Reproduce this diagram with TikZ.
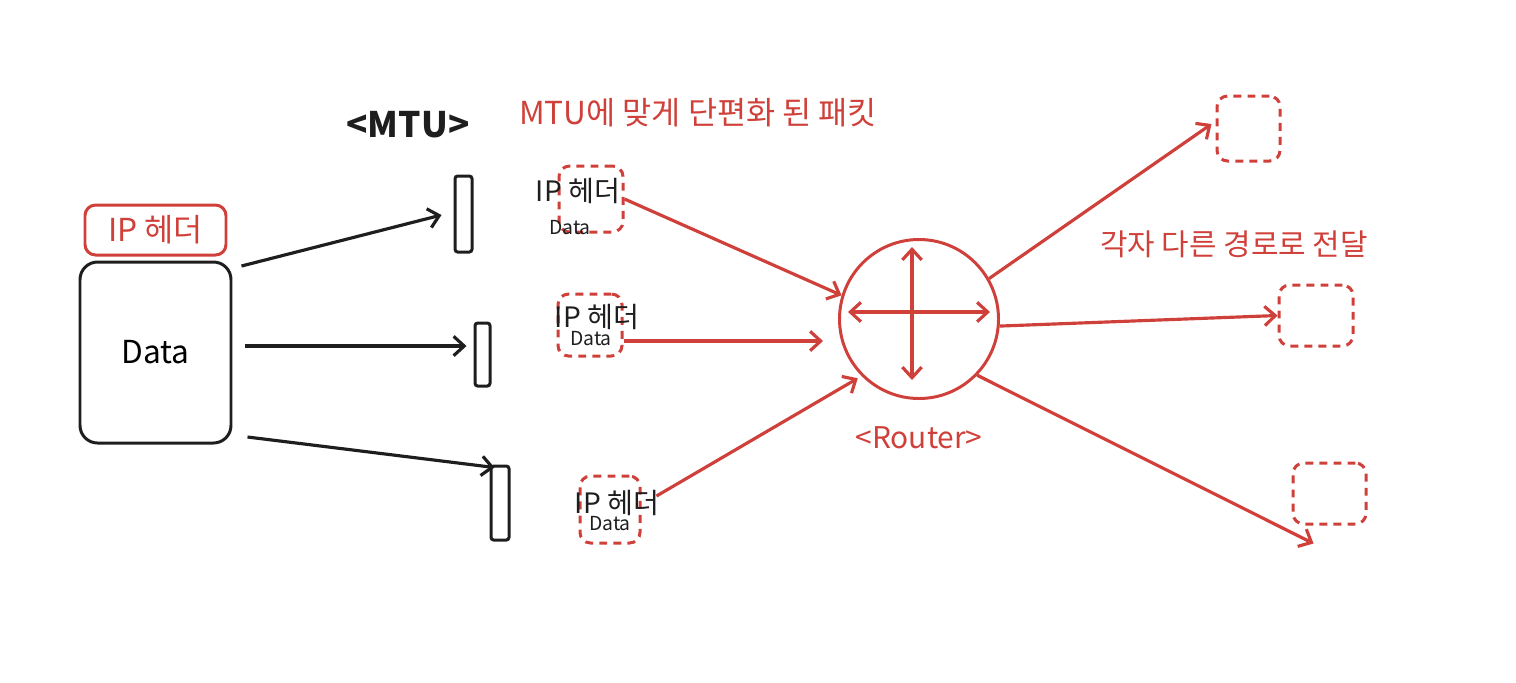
\documentclass[tikz,border=0pt]{standalone}
\usepackage{fontspec}
\setmainfont{Noto Sans CJK KR}
\usetikzlibrary{arrows.meta, positioning}
\definecolor{sketchred}{RGB}{208,64,58}
\definecolor{sketchblack}{RGB}{30,30,30}

\begin{document}
\begin{tikzpicture}[
    node distance=0.5cm,
    databox/.style={
        draw=sketchblack,
        line width=1.7pt,
        rounded corners=10pt,
        minimum width=3.02cm,
        minimum height=3.62cm,
        font=\fontsize{18}{21}\selectfont
    },
    hdrbox/.style={
        draw=sketchred,
        line width=1.7pt,
        rounded corners=6pt,
        minimum width=2.82cm,
        minimum height=1cm,
        inner sep=0pt,
        text=sketchred,
        font=\fontsize{18}{21}\selectfont
    },
    mtubar/.style={
        draw=sketchblack,
        line width=1.7pt,
        rounded corners=1.5pt,
        inner sep=0pt
    },
    fragbox/.style={
        draw=sketchred,
        line width=1.7pt,
        dash pattern=on 4.5pt off 3.5pt,
        rounded corners=6pt,
        inner sep=0pt
    },
    routerc/.style={
        circle,
        draw=sketchred,
        line width=1.7pt,
        minimum size=3.18cm
    },
    hdrtext/.style={
        text=sketchblack,
        inner sep=0pt,
        font=\fontsize{16}{18}\selectfont
    },
    smalltext/.style={
        text=sketchblack,
        inner sep=0pt,
        font=\fontsize{11}{13}\selectfont
    },
    redtext/.style={
        text=sketchred,
        font=\fontsize{17}{20}\selectfont
    },
    blackline/.style={
        draw=sketchblack,
        line width=1.8pt,
        -{Straight Barb[length=6pt,width=11pt]}
    },
    redline/.style={
        draw=sketchred,
        line width=1.8pt,
        -{Straight Barb[length=6pt,width=11pt]}
    },
    crossline/.style={
        draw=sketchred,
        line width=1.8pt,
        {Straight Barb[length=6pt,width=11pt]}-{Straight Barb[length=6pt,width=11pt]}
    }
]
\useasboundingbox (0,0) rectangle (30.32,-13.64);

% Original packet
\node [databox] (data) at (3.11,-7.05) {Data};
\node [hdrbox, above=0.08cm of data] (hdr) {IP 헤더};

% MTU
\node [font=\fontsize{20}{24}\selectfont\bfseries, text=sketchblack] (mtu) at (8.16,-2.5) {<MTU>};
\node [mtubar, minimum width=0.34cm, minimum height=1.52cm] (bar1) at (9.27,-4.28) {};
\node [mtubar, minimum width=0.30cm, minimum height=1.26cm] (bar2) at (9.65,-7.09) {};
\node [mtubar, minimum width=0.36cm, minimum height=1.48cm] (bar3) at (10.0,-10.06) {};

% Fragments
\node [redtext, font=\fontsize{18}{21}\selectfont] (title) at (13.96,-2.26) {MTU에 맞게 단편화 된 패킷};
\node [fragbox, minimum width=1.28cm, minimum height=1.32cm] (frag1) at (11.82,-3.98) {};
\node [fragbox, minimum width=1.28cm, minimum height=1.24cm] (frag2) at (11.8,-6.5) {};
\node [fragbox, minimum width=1.2cm, minimum height=1.34cm] (frag3) at (12.2,-10.19) {};
\node [hdrtext] (hdr1) at (11.56,-3.82) {IP 헤더};
\node [smalltext] (pay1) at (11.4,-4.56) {Data};
\node [hdrtext] (hdr2) at (11.94,-6.34) {IP 헤더};
\node [smalltext] (pay2) at (11.82,-6.78) {Data};
\node [hdrtext] (hdr3) at (12.34,-10.06) {IP 헤더};
\node [smalltext] (pay3) at (12.2,-10.48) {Data};

% Router
\node [routerc] (router) at (18.38,-6.38) {};
\node [redtext, below=0.4cm of router] (rlabel) {<Router>};

% Destinations
\node [redtext] (route) at (24.68,-4.88) {각자 다른 경로로 전달};
\node [fragbox, minimum width=1.26cm, minimum height=1.3cm] (dest1) at (24.97,-2.57) {};
\node [fragbox, minimum width=1.48cm, minimum height=1.22cm] (dest2) at (26.32,-6.31) {};
\node [fragbox, minimum width=1.46cm, minimum height=1.22cm] (dest3) at (26.59,-9.87) {};

% Connections
\path [blackline] ([shift={(0.18,1.73)}]data.east) -- ([shift={(-0.24,-0.02)}]bar1.west);
\path [blackline] ([shift={(0.26,0.13)}]data.east) -- ([shift={(-0.14,0.17)}]bar2.west);
\path [blackline] ([shift={(0.3,-1.69)}]data.east) -- ([shift={(0.1,-0.06)}]bar3.north west);

\path [redline] (frag1.east) -- (router.163);
\path [redline] ([yshift=-0.32cm]frag2.east) -- ([shift={(-0.3,-0.44)}]router.west);
\path [redline] ([shift={(0.3,0.27)}]frag3.east) -- ([shift={(-0.06,-0.06)}]router.224);

% Inside the router
\path [crossline] ([shift={(-1.42,0.14)}]router.center) -- ([shift={(1.42,0.14)}]router.center);
\path [crossline] ([shift={(-0.14,1.44)}]router.center) -- ([shift={(-0.14,-1.22)}]router.center);

% Out to different paths
\path [redline] (router.30) -- ([shift={(-0.08,0.09)}]dest1.west);
\path [redline] (router.-5) -- (dest2.west);
\path [redline] (router.-44) -- ([shift={(0.44,-0.36)}]dest3.south west);

\end{tikzpicture}
\end{document}
